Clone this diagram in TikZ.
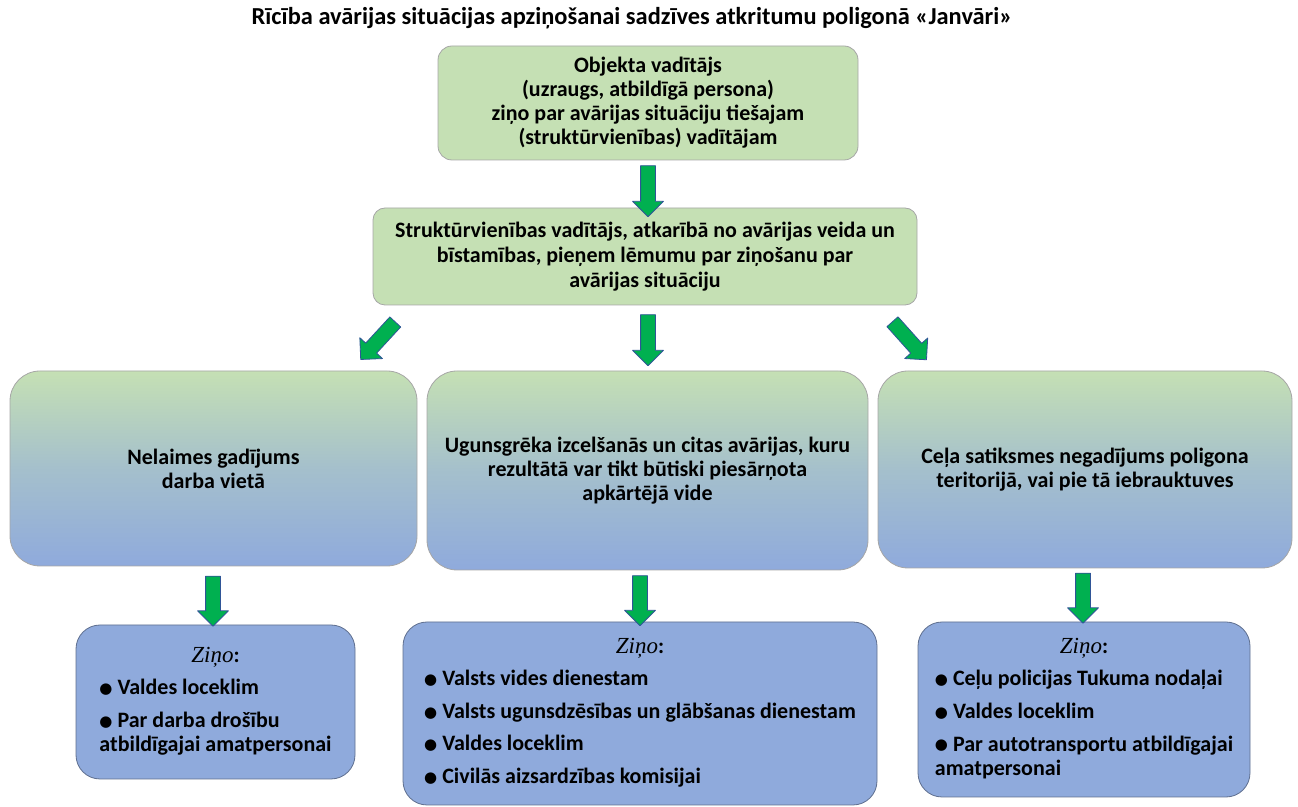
\documentclass[tikz,border=0pt]{standalone}
\usepackage{fontspec}
\setmainfont{Carlito}
\newfontfamily\zinofont{Liberation Serif}
\newfontfamily\dotfont{DejaVu Sans}
\usetikzlibrary{shapes.arrows}
\definecolor{boxgreen}{HTML}{C5E0B4}
\definecolor{boxblue}{HTML}{8FAADC}
\definecolor{boxedge}{HTML}{A6A6A6}
\definecolor{blueedge}{HTML}{5F6F8F}
\definecolor{arrowgreen}{HTML}{00B050}
\definecolor{arrowedge}{HTML}{2F5597}
\newcommand{\itm}{\raisebox{0.6pt}{\dotfont\fontsize{7.5}{7.5}\selectfont ●}\ }
\newcommand{\zino}{{\zinofont\mdseries\itshape\fontsize{11.5}{12}\selectfont Ziņo}:}

\begin{document}
\begin{tikzpicture}[x=0.5pt, y=-0.5pt, line join=round,
  font=\fontsize{11}{12}\selectfont\bfseries,
  greenbox/.style={draw=boxedge, fill=boxgreen, rounded corners=7pt, align=center, inner sep=0pt},
  fadebox/.style={draw=boxedge, top color=boxgreen, bottom color=boxblue, middle color=boxgreen!40!boxblue,
    rounded corners=15pt, align=center, inner sep=0pt},
  bluebox/.style={draw=blueedge, fill=boxblue, rounded corners=12pt, inner sep=0pt},
  blockarrow/.style={single arrow, draw=arrowedge, fill=arrowgreen, line width=0.4pt,
    minimum width=15pt, single arrow head extend=4pt, inner xsep=0pt, inner ysep=3.5pt,
    sloped, allow upside down}]
\useasboundingbox (0,0) rectangle (1298,807);

\node[font=\fontsize{12.2}{14}\selectfont\bfseries] (title) at (632,18)
  {Rīcība avārijas situācijas apziņošanai sadzīves atkritumu poligonā «Janvāri»};

\node[greenbox, minimum width=210pt, minimum height=57pt] (head) at (648,103)
  {Objekta vadītājs\\ (uzraugs, atbildīgā persona)\\ ziņo par avārijas situāciju tiešajam\\ (struktūrvienības) vadītājam};
\node[greenbox, minimum width=272pt, minimum height=48.5pt, rounded corners=6pt,
  font=\fontsize{11}{12.5}\selectfont\bfseries] (chief) at (645,256.5)
  {Struktūrvienības vadītājs, atkarībā no avārijas veida un\\ bīstamības, pieņem lēmumu par ziņošanu par\\ avārijas situāciju};

\node[fadebox, minimum width=203.5pt, minimum height=97.5pt] (work) at (213.5,468.5)
  {Nelaimes gadījums\\ darba vietā};
\node[fadebox, minimum width=220.5pt, minimum height=99.5pt] (fire) at (647.5,470.5)
  {Ugunsgrēka izcelšanās un citas avārijas, kuru\\ rezultātā var tikt būtiski piesārņota\\ apkārtējā vide};
\node[fadebox, minimum width=207pt, minimum height=98.5pt] (road) at (1085,469.5)
  {Ceļa satiksmes negadījums poligona\\ teritorijā, vai pie tā iebrauktuves};

\node[bluebox, minimum width=139.5pt, minimum height=77pt] (tellwork) at (215.5,702)
  {\begin{tabular}{@{}l@{}}\multicolumn{1}{c}{\zino}\\[4.3pt]
   \itm Valdes loceklim\\[4.3pt]
   \itm Par darba drošību\\ atbildīgajai amatpersonai\end{tabular}};
\node[bluebox, minimum width=237pt, minimum height=91.5pt] (tellfire) at (640,713.5)
  {\begin{tabular}{@{}l@{}}\multicolumn{1}{c}{\zino}\\[4.3pt]
   \itm Valsts vides dienestam\\[4.3pt]
   \itm Valsts ugunsdzēsības un glābšanas dienestam\\[4.3pt]
   \itm Valdes loceklim\\[4.3pt]
   \itm Civilās aizsardzības komisijai\end{tabular}};
\node[bluebox, minimum width=166pt, minimum height=87.5pt] (tellroad) at (1084,709.5)
  {\begin{tabular}{@{}l@{}}\multicolumn{1}{c}{\zino}\\[4.3pt]
   \itm Ceļu policijas Tukuma nodaļai\\[4.3pt]
   \itm Valdes loceklim\\[4.3pt]
   \itm Par autotransportu atbildīgajai\\ amatpersonai\end{tabular}};

\coordinate (a0s) at (648,162);   \coordinate (a0e) at (648,213);
\coordinate (a1s) at (398,319);   \coordinate (a1e) at (363,357);
\coordinate (a2s) at (648,311);   \coordinate (a2e) at (648,362);
\coordinate (a3s) at (890,319);   \coordinate (a3e) at (924,357);
\coordinate (a4s) at (213,572);   \coordinate (a4e) at (213,623);
\coordinate (a5s) at (640,572);   \coordinate (a5e) at (640,622);
\coordinate (a6s) at (1083,569);  \coordinate (a6e) at (1083,620);

\path (a0s) -- (a0e) node[midway, blockarrow, minimum height=25.5pt] {};
\path (a1s) -- (a1e) node[midway, blockarrow, minimum height=25.5pt] {};
\path (a2s) -- (a2e) node[midway, blockarrow, minimum height=25.5pt] {};
\path (a3s) -- (a3e) node[midway, blockarrow, minimum height=25.5pt] {};
\foreach \i in {4,5,6}
  \path (a\i s) -- (a\i e) node[midway, blockarrow, minimum height=25pt] {};
\end{tikzpicture}
\end{document}
